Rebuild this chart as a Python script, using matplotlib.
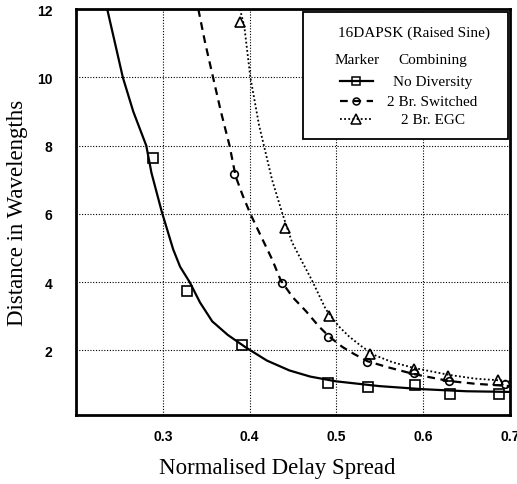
import matplotlib
matplotlib.use("Agg")
import matplotlib.pyplot as plt
from matplotlib.lines import Line2D
from matplotlib.patches import Rectangle

# ---- data ----
sq_x = [0.289, 0.328, 0.391, 0.490, 0.537, 0.591, 0.631, 0.688]
sq_y = [7.65, 3.73, 2.15, 1.03, 0.91, 0.97, 0.72, 0.72]
ci_x = [0.382, 0.438, 0.491, 0.536, 0.590, 0.630, 0.695]
ci_y = [7.16, 3.98, 2.38, 1.65, 1.33, 1.10, 1.02]
tr_x = [0.389, 0.441, 0.492, 0.539, 0.590, 0.629, 0.687]
tr_y = [11.62, 5.6, 3.0, 1.9, 1.45, 1.24, 1.13]

solid_x = [0.236, 0.245, 0.254, 0.266, 0.281, 0.287, 0.299, 0.312, 0.320, 0.331,
           0.343, 0.357, 0.375, 0.396, 0.420, 0.446, 0.470, 0.500, 0.550, 0.600,
           0.650, 0.700]
solid_y = [12.0, 11.0, 10.0, 9.0, 8.0, 7.2, 6.05, 4.96, 4.45, 4.0,
           3.4, 2.85, 2.45, 2.08, 1.70, 1.41, 1.23, 1.09, 0.95, 0.86,
           0.80, 0.78]
dash_x = [0.341, 0.349, 0.358, 0.367, 0.377, 0.384, 0.392, 0.401, 0.415, 0.426,
          0.436, 0.450, 0.465, 0.480, 0.492, 0.507, 0.520, 0.536, 0.560, 0.590,
          0.630, 0.660, 0.700]
dash_y = [12.0, 11.0, 10.0, 9.0, 8.0, 7.1, 6.55, 6.0, 5.25, 4.67,
          4.05, 3.55, 3.15, 2.7, 2.4, 2.1, 1.9, 1.68, 1.5, 1.3,
          1.1, 1.02, 0.95]
dot_x = [0.389, 0.394, 0.401, 0.411, 0.426, 0.438, 0.449, 0.461, 0.472, 0.488,
         0.503, 0.515, 0.530, 0.545, 0.565, 0.590, 0.630, 0.660, 0.700]
dot_y = [12.0, 11.5, 10.0, 8.6, 7.0, 6.0, 5.17, 4.58, 4.05, 3.2,
         2.7, 2.4, 2.1, 1.85, 1.65, 1.48, 1.28, 1.17, 1.10]

x_ticks = [0.3, 0.4, 0.5, 0.6, 0.7]
y_ticks = [2, 4, 6, 8, 10, 12]
legend_title = "16DAPSK (Raised Sine)"
legend_labels = ["No Diversity", "2 Br. Switched", "2 Br. EGC"]

serif = ["Liberation Serif", "DejaVu Serif"]
sans = ["Liberation Sans", "DejaVu Sans"]

fig = plt.figure(figsize=(5.17, 4.85), dpi=100)
ax = fig.add_axes([0.147, 0.142, 0.839, 0.837])

dash_style = (0, (3.5, 2.5))
dot_style = (0, (1, 1.3))

ax.plot(solid_x, solid_y, color="black", lw=1.6, ls="-")
ax.plot(dash_x, dash_y, color="black", lw=1.6, ls=dash_style)
ax.plot(dot_x, dot_y, color="black", lw=1.3, ls=dot_style)

mk = dict(ls="none", color="black", mfc="none", mew=1.2, clip_on=False)
ax.plot(sq_x, sq_y, marker="s", ms=7, **mk)
ax.plot(ci_x, ci_y, marker="o", ms=5.5, **mk)
ax.plot(tr_x, tr_y, marker="^", ms=7.5, **mk)

ax.set_xlim(0.2, 0.7)
ax.set_ylim(0.1, 12)
ax.set_xticks(x_ticks)
ax.set_xticklabels([f"{v:.1f}" for v in x_ticks])
ax.set_yticks(y_ticks)
ax.set_yticklabels([str(v) for v in y_ticks])
for lab in ax.get_xticklabels() + ax.get_yticklabels():
    lab.set_family(sans)
    lab.set_fontweight("bold")
    lab.set_fontsize(10)
ax.tick_params(length=0, pad=10)
ax.tick_params(axis="y", pad=17)
ax.grid(True, color="black", lw=0.8, ls=(0, (1, 1.5)))
for s in ax.spines.values():
    s.set_linewidth(2)

ax.set_xlabel("Normalised Delay Spread", family=serif, fontsize=16.5)
ax.set_ylabel("Distance in Wavelengths", family=serif, fontsize=16.5)
ax.xaxis.set_label_coords(0.463, -0.128)
ax.yaxis.set_label_coords(-0.135, 0.50)
ax.xaxis.label.set_va("center")
ax.yaxis.label.set_va("center")

# ---- legend box ----
t = ax.transAxes
ax.add_patch(Rectangle((0.523, 0.680), 0.472, 0.313, transform=t,
                       facecolor="white", edgecolor="black", lw=1.3, zorder=5))
ax.text(0.779, 0.943, legend_title, transform=t, family=serif, fontsize=11,
        ha="center", va="center", zorder=6)
ax.text(0.648, 0.877, "Marker", transform=t, family=serif, fontsize=11,
        ha="center", va="center", zorder=6)
ax.text(0.822, 0.877, "Combining", transform=t, family=serif, fontsize=11,
        ha="center", va="center", zorder=6)
rows = [0.823, 0.773, 0.729]
styles = [("-", "s", 1.6, 6), (dash_style, "o", 1.6, 5), (dot_style, "^", 1.3, 6.5)]
for yy, lab, (ls, m, lw, ms) in zip(rows, legend_labels, styles):
    ax.add_line(Line2D([0.608, 0.684], [yy, yy], transform=t, color="black",
                       ls=ls, lw=lw, zorder=6))
    ax.add_line(Line2D([0.646], [yy], transform=t, color="black", marker=m,
                       ms=ms, mfc="none", mew=1.1, ls="none", zorder=6))
    ax.text(0.822, yy, lab, transform=t, family=serif, fontsize=11,
            ha="center", va="center", zorder=6)

fig.savefig("out.png", dpi=100)
